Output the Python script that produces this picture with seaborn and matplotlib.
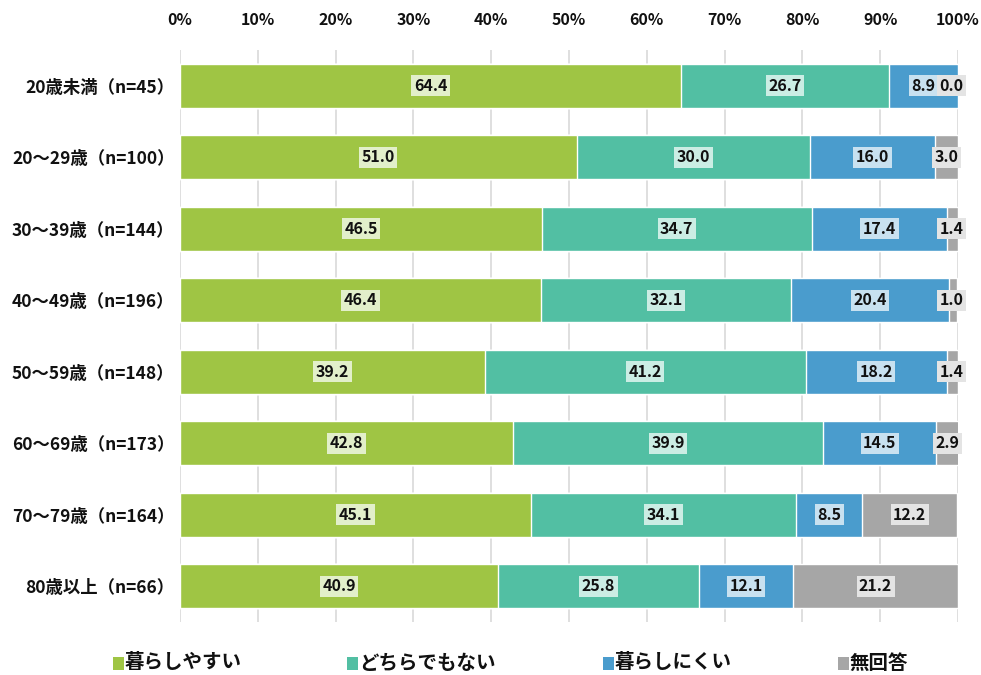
import matplotlib
matplotlib.use("Agg")
import matplotlib.pyplot as plt
import seaborn as sns
import pandas as pd
import numpy as np
from matplotlib.patches import Rectangle
from matplotlib.ticker import PercentFormatter

# Age groups and response shares (%)
categories = ["20歳未満（n=45）", "20～29歳（n=100）", "30～39歳（n=144）", "40～49歳（n=196）",
              "50～59歳（n=148）", "60～69歳（n=173）", "70～79歳（n=164）", "80歳以上（n=66）"]
series_names = ["暮らしやすい", "どちらでもない", "暮らしにくい", "無回答"]
easy = [64.4, 51.0, 46.5, 46.4, 39.2, 42.8, 45.1, 40.9]
neutral = [26.7, 30.0, 34.7, 32.1, 41.2, 39.9, 34.1, 25.8]
hard = [8.9, 16.0, 17.4, 20.4, 18.2, 14.5, 8.5, 12.1]
no_answer = [0.0, 3.0, 1.4, 1.0, 1.4, 2.9, 12.2, 21.2]

colors = ["#9FC544", "#52BFA3", "#4A9CCD", "#A6A6A6"]
box_colors = ["#E2EFCA", "#CBEDE4", "#C8E1F0", "#E4E4E4"]

sns.set_theme(style="white")
plt.rcParams["font.family"] = ["Noto Sans CJK JP", "DejaVu Sans"]

values = np.array([easy, neutral, hard, no_answer])
cum = np.cumsum(values, axis=0)
df = pd.DataFrame({"category": categories})
for i, name in enumerate(series_names):
    df[name] = cum[i]

W, H = 981, 675
fig = plt.figure(figsize=(W / 100, H / 100), dpi=100)
ax = fig.add_axes([180 / W, 1 - 622 / H, 778 / W, 572 / H])

# Draw cumulative totals from the outermost layer inward so each segment shows
for i in reversed(range(len(series_names))):
    sns.barplot(data=df, x=series_names[i], y="category", color=colors[i],
                orient="h", width=0.62, ax=ax, saturation=1, zorder=2)

for i in range(len(series_names)):
    starts = cum[i] - values[i]
    for j, v in enumerate(values[i]):
        xc = min(starts[j] + v / 2, 99.2)
        ax.text(xc, j, f"{v:.1f}", ha="center", va="center", fontsize=11.5,
                fontweight="bold", color="#111111", zorder=5,
                bbox=dict(boxstyle="square,pad=0.15", fc=box_colors[i], ec="none"))

ax.set_xlim(0, 100)
ax.set_ylim(7.5, -0.5)
ax.set_xticks(np.arange(0, 101, 10))
ax.xaxis.set_major_formatter(PercentFormatter(decimals=0))
ax.xaxis.tick_top()
ax.tick_params(axis="x", length=0, pad=16, labelsize=11.5)
ax.tick_params(axis="y", length=0, pad=4, labelsize=12.5)
for lab in ax.get_xticklabels() + ax.get_yticklabels():
    lab.set_fontweight("bold")
    lab.set_color("#111111")
ax.grid(axis="x", color="#D9D9D9", linewidth=1.2, zorder=0)
ax.set_axisbelow(True)
ax.set_xlabel("")
ax.set_ylabel("")
for s in ax.spines.values():
    s.set_visible(False)

# Legend row along the bottom
legend_x = [113, 347, 603, 838]
ly = 663
for x, c, name in zip(legend_x, colors, series_names):
    fig.patches.append(Rectangle((x / W, 1 - (ly + 7) / H), 11 / W, 13 / H,
                                 transform=fig.transFigure, facecolor=c, edgecolor="none"))
    fig.text((x + 12) / W, 1 - ly / H, name, ha="left", va="center",
             fontsize=14, fontweight="bold", color="#111111")

fig.savefig("out.png", dpi=100)
